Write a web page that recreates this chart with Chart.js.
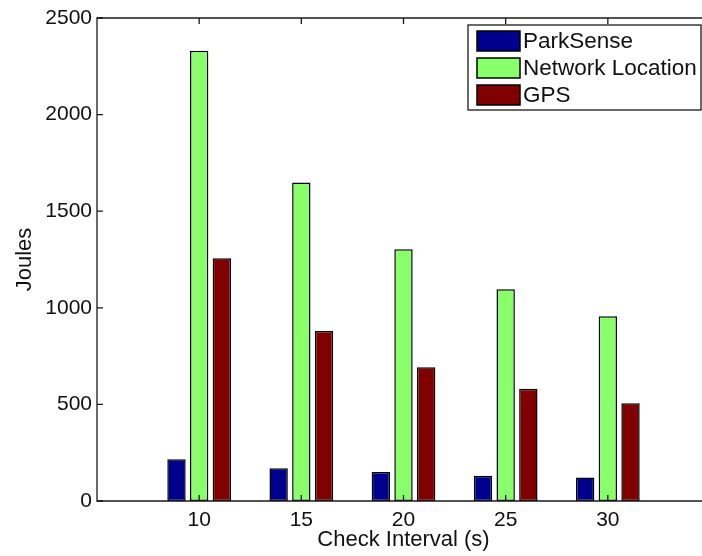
<!DOCTYPE html>
<html>
<head>
<meta charset="utf-8">
<script src="https://cdn.jsdelivr.net/npm/chart.js@4"></script>
<style>
  html, body { margin: 0; padding: 0; background: #fff; overflow: hidden; }
</style>
</head>
<body>
<canvas id="energyChart" width="702" height="556"></canvas>
<script>
// x axis runs from 5 to 35 like the matlab xlim, only 10..30 carry bars
// (the right edge of the original figure is cropped off)
const intervals = ["5", "10", "15", "20", "25", "30", "35"];
const parkSense = [null, 216, 169, 150, 131, 121, null];
const networkLocation = [null, 2331, 1649, 1303, 1096, 956, null];
const gps = [null, 1256, 880, 692, 581, 506, null];
const yTicks = [0, 500, 1000, 1500, 2000, 2500];

const FONT = "'Liberation Sans', Arial, sans-serif";
const AXIS_COLOR = "#1a1a1a";
const AREA_RIGHT = 710; // past the canvas edge, so the right axis is cut off

// matlab style box with inward tick marks + legend in upper right
const boxPlugin = {
    id: "matlabBox",
    afterLayout(chart) {
        const x = chart.scales.x;
        x.right = AREA_RIGHT;
        x.width = x.right - x.left;
        x.configure();
    },
    afterDraw(chart) {
        const { ctx, scales } = chart;
        const left = scales.x.left, right = scales.x.right;
        const top = scales.y.top, bottom = scales.y.bottom;
        const tick = 6;
        ctx.save();
        ctx.strokeStyle = AXIS_COLOR;
        ctx.lineWidth = 1.3;
        ctx.beginPath();
        ctx.moveTo(right, top);
        ctx.lineTo(left, top);
        ctx.lineTo(left, bottom);
        ctx.lineTo(right, bottom);
        ctx.stroke();

        ctx.beginPath();
        scales.x.ticks.forEach((t, i) => {
            const lbl = intervals[i];
            if (lbl === "5" || lbl === "35") return;
            const px = scales.x.getPixelForTick(i);
            ctx.moveTo(px, bottom);
            ctx.lineTo(px, bottom - tick);
            ctx.moveTo(px, top);
            ctx.lineTo(px, top + tick);
        });
        yTicks.forEach((v) => {
            const py = scales.y.getPixelForValue(v);
            ctx.moveTo(left, py);
            ctx.lineTo(left + tick, py);
        });
        ctx.stroke();

        // legend
        const lx = 468, ly = 25, lw = 233, lh = 85;
        ctx.fillStyle = "#fff";
        ctx.fillRect(lx, ly, lw, lh);
        ctx.strokeStyle = AXIS_COLOR;
        ctx.lineWidth = 1.3;
        ctx.strokeRect(lx, ly, lw, lh);
        ctx.font = "22.5px " + FONT;
        ctx.textBaseline = "middle";
        ctx.textAlign = "left";
        chart.data.datasets.forEach((ds, i) => {
            const rowY = 31 + i * 27;
            ctx.fillStyle = ds.backgroundColor;
            ctx.fillRect(477, rowY, 43, 20);
            ctx.strokeStyle = "#000";
            ctx.lineWidth = 1.5;
            ctx.strokeRect(477, rowY, 43, 20);
            ctx.fillStyle = "#111";
            ctx.fillText(ds.label, 523, rowY + 11);
        });
        ctx.restore();
    },
};

const barStyle = {
    borderColor: "#000",
    borderWidth: 1.5,
    borderSkipped: false,
    categoryPercentage: 0.666,
    barPercentage: 0.81,
};

new Chart(document.getElementById("energyChart"), {
    type: "bar",
    data: {
        labels: intervals,
        datasets: [
            { label: "ParkSense", data: parkSense, backgroundColor: "#00008f", ...barStyle },
            { label: "Network Location", data: networkLocation, backgroundColor: "#8aff6c", ...barStyle },
            { label: "GPS", data: gps, backgroundColor: "#800000", ...barStyle },
        ],
    },
    options: {
        responsive: false,
        animation: false,
        layout: { padding: { top: 18, right: 0, left: 0, bottom: 0 } },
        plugins: {
            legend: { display: false },
            tooltip: { enabled: false },
        },
        scales: {
            x: {
                offset: false,
                grid: { display: false, drawTicks: false },
                border: { display: false },
                ticks: {
                    color: "#111",
                    font: { family: FONT, size: 21 },
                    padding: 7,
                    maxRotation: 0,
                    autoSkip: false,
                    callback: function (val, i) {
                        const lbl = intervals[i];
                        return lbl === "5" || lbl === "35" ? "" : lbl;
                    },
                },
                title: {
                    display: true,
                    text: "Check Interval (s)",
                    color: "#111",
                    font: { family: FONT, size: 22 },
                    padding: { top: 0, bottom: 3 },
                },
                afterFit: function (scale) {
                    scale.height = 55;
                    scale.paddingLeft = 0;
                    scale.paddingRight = 0;
                },
            },
            y: {
                min: 0,
                max: 2500,
                grid: { display: false, drawTicks: false },
                border: { display: false },
                ticks: {
                    stepSize: 500,
                    color: "#111",
                    font: { family: FONT, size: 21 },
                    padding: 5,
                    callback: (v) => String(v),
                },
                title: {
                    display: true,
                    text: "Joules",
                    color: "#111",
                    font: { family: FONT, size: 22 },
                    padding: { top: 12, bottom: 0 },
                },
                afterFit: function (scale) {
                    scale.width = 97;
                },
            },
        },
    },
    plugins: [boxPlugin],
});
</script>
</body>
</html>
